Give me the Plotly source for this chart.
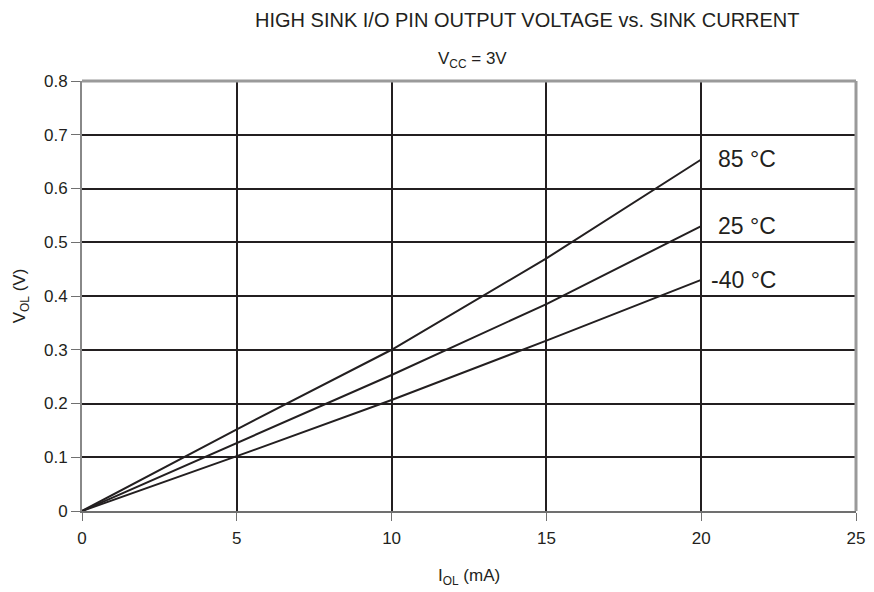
import plotly.graph_objects as go

current_ma = [0, 5, 10, 15, 20]
v_85 = [0, 0.152, 0.300, 0.470, 0.654]
v_25 = [0, 0.126, 0.253, 0.385, 0.530]
v_m40 = [0, 0.102, 0.2065, 0.317, 0.430]
series_names = ["85 °C", "25 °C", "-40 °C"]
series_vals = [v_85, v_25, v_m40]
x_ticks = [0, 5, 10, 15, 20, 25]
y_ticks = [0, 0.1, 0.2, 0.3, 0.4, 0.5, 0.6, 0.7, 0.8]
y_tick_text = ["0", "0.1", "0.2", "0.3", "0.4", "0.5", "0.6", "0.7", "0.8"]

FONT = "Liberation Sans, Arial, sans-serif"
INK = "#231f20"

fig = go.Figure()
for name, vals in zip(series_names, series_vals):
    fig.add_trace(go.Scatter(x=current_ma, y=vals, mode="lines", name=name,
                             line=dict(color=INK, width=2), showlegend=False,
                             hoverinfo="skip"))
    fig.add_annotation(x=current_ma[-1], y=vals[-1], xref="x", yref="y",
                       text=name, showarrow=False, xanchor="right", yanchor="middle",
                       xshift=77, font=dict(size=23, color=INK, family=FONT))

fig.add_annotation(x=0.575, y=1.1698, xref="paper", yref="paper",
                   text="HIGH SINK I/O PIN OUTPUT VOLTAGE vs. SINK CURRENT",
                   showarrow=False, xanchor="center", yanchor="top", borderpad=0,
                   font=dict(size=20, color=INK, family=FONT))
fig.add_annotation(x=0.504, y=1.049, xref="paper", yref="paper",
                   text="V<sub>CC</sub> = 3V", showarrow=False,
                   xanchor="center", yanchor="middle",
                   font=dict(size=17, color=INK, family=FONT))
fig.add_annotation(x=0.5, y=-0.1535, xref="paper", yref="paper",
                   text="I<sub>OL</sub> (mA)", showarrow=False,
                   xanchor="center", yanchor="middle",
                   font=dict(size=17, color=INK, family=FONT))

fig.update_layout(
    width=866, height=584,
    margin=dict(l=74, r=18, t=73, b=81, autoexpand=False),
    paper_bgcolor="white", plot_bgcolor="white",
    font=dict(family=FONT, size=17, color=INK),
    xaxis=dict(range=[0, 25], tickvals=x_ticks, ticktext=[str(t) for t in x_ticks],
               showgrid=True, gridcolor=INK, gridwidth=2,
               showline=True, linecolor="#707070", linewidth=2,
               ticks="outside", ticklen=8, tickcolor="#707070", tickwidth=1,
               ticklabelstandoff=3, automargin=False,
               zeroline=False, tickfont=dict(size=17)),
    yaxis=dict(range=[0, 0.8], tickvals=y_ticks, ticktext=y_tick_text,
               showgrid=True, gridcolor=INK, gridwidth=2,
               showline=True, linecolor="#888888", linewidth=2,
               ticks="outside", ticklen=9, tickcolor="#707070", tickwidth=1,
               zeroline=False, tickfont=dict(size=17),
               title=dict(text="V<sub>OL</sub> (V)", standoff=14, font=dict(size=17))),
)
# top and right frame in light gray
fig.add_shape(type="line", xref="paper", yref="paper", x0=0, x1=1, y0=1, y1=1,
              line=dict(color="#9a9a9a", width=3))
fig.add_shape(type="line", xref="paper", yref="paper", x0=1, x1=1, y0=0, y1=1,
              line=dict(color="#9a9a9a", width=3))

fig.write_html("out.html")
